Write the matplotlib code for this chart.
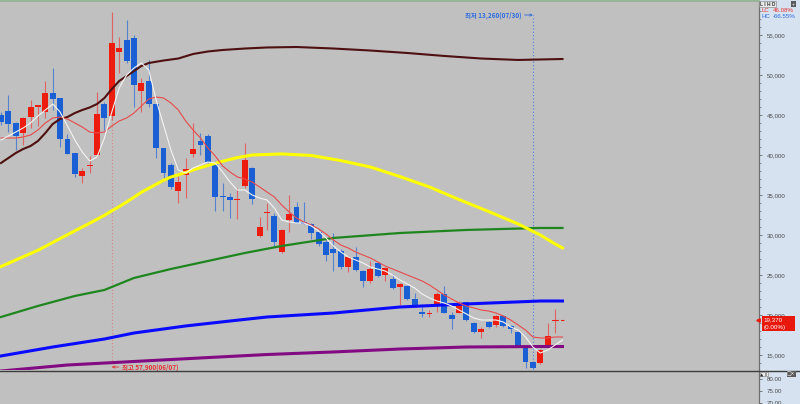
#!/usr/bin/env python3
"""
Daily candle chart with moving averages (Korean HTS style).
Prices in KRW, read off the reference screenshot.
"""

import numpy as np
import matplotlib
matplotlib.use('Agg')
import matplotlib.pyplot as plt
from matplotlib.lines import Line2D
from matplotlib.patches import Rectangle
from matplotlib.ticker import MultipleLocator, FuncFormatter

plt.rcParams['font.family'] = ['Liberation Sans', 'DejaVu Sans']

# ---------------------------------------------------------------------------
# Data
# ---------------------------------------------------------------------------

opens = [45000, 45500, 44000, 42750, 44750, 46000, 45400, 47750, 47150, 42000,
         40250, 37400, 38650, 40000, 46400, 44900, 52900, 54400, 54650, 48000,
         49250, 46400, 40900, 38750, 35500, 37500, 40150, 41750, 42400, 39150,
         34900, 34750, 34400, 36150, 38400, 29900, 32750, 32400, 27900, 31900,
         33500, 31650, 31400, 30400, 29150, 28250, 28000, 26000, 27250, 25500,
         24250, 26500, 25000, 24500, 23500, 23650, 22000, 20400, 20150, 21250,
         22650, 20000, 20250, 21650, 19000, 17900, 19150, 18750, 19900, 18650,
         17900, 15900, 14150, 14000, 16000, 19250]
highs = [45400, 47500, 44150, 44750, 46900, 46250, 49250, 50900, 47150, 42650,
         40250, 38400, 39900, 47900, 46650, 57900, 54750, 56900, 55000, 49650,
         51900, 46400, 40900, 39000, 37400, 39650, 44000, 42750, 42650, 39250,
         36500, 35250, 35900, 41500, 38500, 32250, 34000, 32750, 30750, 35000,
         34150, 34150, 31500, 30650, 29400, 30250, 28250, 27400, 28500, 25650,
         26750, 26500, 26000, 25150, 24000, 23750, 22750, 21000, 20650, 22900,
         23650, 20400, 21750, 21650, 19150, 18500, 19250, 20000, 20000, 18750,
         18000, 16000, 14200, 15750, 19000, 20750]
lows = [43750, 42900, 40650, 41250, 43400, 43650, 44650, 45650, 41000, 40150,
        37250, 36500, 37750, 39750, 43150, 44400, 50250, 51500, 46000, 45400,
        46000, 39650, 37150, 35750, 34000, 34650, 39750, 40000, 39000, 33000,
        33000, 32150, 32000, 35900, 33900, 29750, 30650, 28500, 27750, 30400,
        31500, 31400, 29500, 28650, 26750, 25500, 25750, 25400, 25500, 23500,
        24000, 24750, 24250, 23250, 21250, 21900, 21000, 19750, 19750, 20400,
        20250, 18250, 20250, 19250, 17750, 17150, 18400, 18500, 18500, 17750,
        16000, 13400, 13260, 13900, 15900, 17750]
closes = [44150, 43900, 42400, 44650, 46000, 46250, 47750, 47000, 42000, 40150,
          37650, 38000, 38750, 45150, 44650, 54000, 53400, 51750, 48750, 49000,
          46400, 40900, 37750, 36000, 36650, 38250, 40750, 41250, 39150, 34750,
          34750, 34400, 34500, 39400, 34500, 31000, 32900, 29150, 30650, 32650,
          31500, 31400, 30250, 28900, 27500, 27750, 26000, 27250, 25650, 24250,
          25750, 24900, 25900, 23400, 23900, 22000, 21250, 20150, 20250, 22650,
          20250, 19500, 21250, 19400, 17900, 18250, 18500, 19900, 18650, 18250,
          16150, 14150, 13420, 15650, 17400, 19370]

high_label = '최고 57,900(06/07)'
low_label = '최저 13,260(07/30)'
last_change_pct = 0.00

# short moving averages, one value per candle (+ one projected step)
ma_white = [41875, 42375, 42875, 43375, 44000, 44875, 45625, 46375, 45375, 43625,
            41875, 40375, 39250, 39750, 42125, 45375, 48375, 50000, 50875, 51500,
            50625, 46875, 43750, 40625, 38125, 37750, 38375, 38750, 39125, 39000,
            37875, 36625, 35625, 35625, 35000, 34625, 34375, 33375, 31875, 31625,
            31500, 31500, 31125, 30500, 29625, 28625, 27875, 27250, 26875, 26500,
            26000, 25750, 25500, 25000, 24375, 23875, 23375, 22625, 22125, 21750,
            21500, 21125, 20625, 20125, 19625, 19375, 19375, 19375, 19125, 18500,
            18125, 17250, 16000, 15250, 15625, 16250, 16875]
ma_red = [42125, 42125, 42125, 42250, 42500, 43125, 44000, 44625, 44750, 44500,
          44000, 43500, 42875, 42750, 42875, 43625, 44250, 44625, 45250, 46125,
          47000, 47250, 47125, 46500, 45625, 44250, 43125, 42125, 40875, 39875,
          38625, 37875, 37250, 37000, 36625, 36000, 35375, 34750, 33750, 32875,
          32125, 31625, 31250, 30750, 30125, 29375, 28750, 28375, 27875, 27500,
          27125, 26625, 26125, 25750, 25375, 25000, 24625, 24250, 23750, 23125,
          22500, 22000, 21500, 21125, 20875, 20625, 20500, 20250, 19875, 19375,
          18750, 18125, 17250, 17125, 17125, 17250, 17250]

# long moving averages, sampled at candle positions
ma_brown_idx = [0, 1, 2, 3, 4, 5, 6, 7, 8, 9, 10, 11, 12, 13, 14, 15, 16, 17, 18,
                19, 20, 22, 24, 26, 28, 30, 33, 36, 40, 45, 50, 55, 60, 65, 70, 73, 76]
ma_brown = [39000, 39625, 40250, 40750, 41125, 41750, 42750, 43875, 44500, 44750,
            45250, 45625, 45940, 46375, 47125, 48250, 49250, 49875, 50500, 51125,
            51500, 51810, 52060, 52625, 52940, 53125, 53310, 53440, 53500, 53310,
            53060, 52750, 52380, 52060, 51880, 51940, 52000]
ma_yellow_idx = [0, 5, 9, 12, 14, 15, 16, 17, 18, 19, 20, 22, 23, 24, 26, 28, 30,
                 32, 34, 38, 42, 46, 50, 54, 58, 62, 66, 70, 73, 75, 76]
ma_yellow = [26060, 28090, 30040, 31475, 32460, 33025, 33550, 34125, 34725, 35340,
             35840, 36840, 37250, 37525, 38125, 38700, 39210, 39680, 40000, 40130,
             39940, 39300, 38500, 37300, 36000, 34430, 32940, 31380, 30000, 28880,
             28380]
ma_green_idx = [0, 5, 10, 14, 18, 23, 28, 33, 38, 45, 54, 63, 73, 76]
ma_green = [19750, 21130, 22380, 23130, 24630, 25750, 26750, 27750, 28630, 29630,
            30250, 30630, 30880, 30880]
ma_blue_idx = [0, 7, 14, 18, 25, 31, 36, 45, 54, 63, 73, 76]
ma_blue = [14880, 16000, 17000, 17750, 18630, 19250, 19750, 20250, 21000, 21380,
           21750, 21750]
ma_purple_idx = [0, 9, 18, 27, 36, 45, 54, 63, 73, 76]
ma_purple = [13000, 13750, 14190, 14630, 15060, 15380, 15750, 16000, 16060, 16060]

price_ticks = [15000, 20000, 25000, 30000, 35000, 40000, 45000, 50000, 55000]
sub_ticks = [70, 75, 80]

# ---------------------------------------------------------------------------
# Styling
# ---------------------------------------------------------------------------

W, H = 800, 404
BG = '#c0c0c0'
PANEL = '#d6e2f0'
UP = '#ec1c0e'
DOWN = '#1a5fd4'
UP_WICK = '#e06464'
DOWN_WICK = '#5583d2'
KR = ['Noto Sans CJK KR', 'DejaVu Sans']

o = np.array(opens, float)
h = np.array(highs, float)
l = np.array(lows, float)
c = np.array(closes, float)
idx = np.arange(len(c))
up = c >= o

fig = plt.figure(figsize=(W / 100, H / 100), dpi=100)
fig.patch.set_facecolor(BG)

# right-hand scale strip
fig.add_artist(Rectangle((759 / W, 0), 41 / W, 1, transform=fig.transFigure,
                         facecolor=PANEL, edgecolor='none', zorder=-1))

# ---------------------------------------------------------------------------
# Price panel
# ---------------------------------------------------------------------------

ax = fig.add_axes([0, 34 / H, 759 / W, 369 / H])
ax.set_facecolor(BG)
ax.set_xlim(-0.135, 102.6)
ax.set_ylim(13125, 59250)

ax.vlines(idx, l, h, colors=np.where(up, UP_WICK, DOWN_WICK), lw=0.8, zorder=2)
body_lo = np.minimum(o, c)
body_h = np.maximum(np.abs(c - o), 120)
ax.bar(idx, body_h, bottom=body_lo, width=0.8,
       color=np.where(up, UP, DOWN), edgecolor='none', zorder=3)

ax.plot(ma_purple_idx, ma_purple, color='#820a82', lw=2.2, zorder=4)
ax.plot(ma_blue_idx, ma_blue, color='#0a0aff', lw=2.2, zorder=4)
ax.plot(ma_green_idx, ma_green, color='#1f861f', lw=1.6, zorder=4)
ax.plot(ma_yellow_idx, ma_yellow, color='#ffff00', lw=2.2, zorder=4)
ax.plot(ma_brown_idx, ma_brown, color='#4e1010', lw=1.5, zorder=4)
ma_x = np.arange(len(ma_white))
ax.plot(ma_x, ma_red, color='#e84a4a', lw=0.8, zorder=5)
ax.plot(ma_x, ma_white, color='#f4f4f4', lw=0.8, zorder=5)

# last price marker line
ax.hlines(c[-1], idx[-1], idx[-1] + 1.3, colors=UP, lw=0.8, linestyles=(0, (3, 2)), zorder=5)

# high / low markers
hi_i = int(np.argmax(h))
lo_i = int(np.argmin(l))
y_top = 57500
y_bot = 13500
ax.vlines(hi_i, y_bot, h[hi_i], colors='#e08080', lw=0.8, linestyles=(0, (1, 2)), zorder=1)
ax.vlines(lo_i, l[lo_i], y_top, colors='#4d80e0', lw=0.8, linestyles=(0, (1, 2)), zorder=1)

ax.annotate(low_label, xy=(lo_i, y_top), xytext=(-8, 0), textcoords='offset points',
            ha='right', va='center', fontsize=4.6, fontweight='bold', color='#2d6ae0',
            family=KR,
            arrowprops=dict(arrowstyle='->', color='#2d6ae0', lw=0.6,
                            shrinkA=0, shrinkB=0, mutation_scale=4))
ax.annotate(high_label, xy=(hi_i, y_bot), xytext=(7, 0), textcoords='offset points',
            ha='left', va='center', fontsize=4.6, fontweight='bold', color='#e83030',
            family=KR,
            arrowprops=dict(arrowstyle='->', color='#e83030', lw=0.6,
                            shrinkA=0, shrinkB=0, mutation_scale=4))

ax.set_xticks([])
ax.yaxis.tick_right()
ax.set_yticks(price_ticks)
ax.yaxis.set_minor_locator(MultipleLocator(1000))
ax.yaxis.set_major_formatter(FuncFormatter(lambda v, _: f'{int(v):,}'))
ax.tick_params(axis='y', which='major', length=2.5, width=0.6, color='#6a6a6a',
               pad=3, labelsize=4.4, labelcolor='#4a4a4a')
ax.tick_params(axis='y', which='minor', length=1.5, width=0.5, color='#6a6a6a')
for side in ('left', 'bottom'):
    ax.spines[side].set_visible(False)
ax.spines['top'].set_color('#8fb58f')
ax.spines['top'].set_linewidth(1.2)
ax.spines['right'].set_color('#6e6e6e')
ax.spines['right'].set_linewidth(0.9)

# ---------------------------------------------------------------------------
# Lower (indicator) panel
# ---------------------------------------------------------------------------

ax2 = fig.add_axes([0, 0, 759 / W, 33 / H])
ax2.set_facecolor(BG)
ax2.set_xlim(ax.get_xlim())
ax2.set_ylim(69.6, 83.4)
ax2.set_xticks([])
ax2.yaxis.tick_right()
ax2.set_yticks(sub_ticks)
ax2.yaxis.set_major_formatter(FuncFormatter(lambda v, _: f'{v:.2f}'))
ax2.tick_params(axis='y', length=2.5, width=0.6, color='#6a6a6a', pad=3,
                labelsize=4.4, labelcolor='#4a4a4a')
for side in ('left', 'bottom', 'top'):
    ax2.spines[side].set_visible(False)
ax2.spines['right'].set_color('#6e6e6e')
ax2.spines['right'].set_linewidth(0.9)

fig.add_artist(Line2D([0, 1], [1 - 370.5 / H] * 2, transform=fig.transFigure,
                      color='#3c3c3c', lw=1.0))

# ---------------------------------------------------------------------------
# Right strip: current price box and range stats
# ---------------------------------------------------------------------------

side = fig.add_axes([759 / W, 34 / H, 41 / W, 369 / H])
side.set_xlim(0, 1)
side.set_ylim(ax.get_ylim())
side.axis('off')
side.add_patch(Rectangle((0.07, c[-1] - 1375), 0.81, 1875, facecolor='#e8180c',
                         edgecolor='none', clip_on=False))
side.text(0.12, c[-1], f'{int(c[-1]):,}', color='white', fontsize=4.5, va='center')
side.text(0.12, c[-1] - 880, f'({last_change_pct:.2f}%)', color='white',
          fontsize=4.5, va='center')
side.plot([-0.02], [c[-1]], marker='<', color='#e8180c', ms=2.5, clip_on=False)

lc = (c[-1] - l.min()) / l.min() * 100
hc = (c[-1] - h.max()) / h.max() * 100
fig.text(761 / W, 1 - 11 / H, 'LC', color='#e83030', fontsize=4.4, va='center')
fig.text(794 / W, 1 - 11 / H, f'{lc:.2f}%', color='#e83030', fontsize=4.4,
         va='center', ha='right')
fig.text(761 / W, 1 - 17 / H, 'HC', color='#2d6ae0', fontsize=4.4, va='center')
fig.text(795 / W, 1 - 17 / H, f'{hc:.2f}%', color='#2d6ae0', fontsize=4.4,
         va='center', ha='right')

# small toolbar buttons
fig.text(760 / W, 1 - 4 / H, 'L I H D', fontsize=3.4, fontweight='bold', color='#303030',
         va='center', bbox=dict(facecolor='#ececec', edgecolor='#777777', pad=0.4, lw=0.4))
fig.text(792 / W, 1 - 4 / H, '+', fontsize=3.4, color='white', va='center',
         bbox=dict(facecolor='#5a5a5a', edgecolor='none', pad=0.5))
fig.text(760 / W, 1 - 374 / H, '▲ II', fontsize=3.2, color='#303030', va='center',
         family=['DejaVu Sans'],
         bbox=dict(facecolor='#ececec', edgecolor='#777777', pad=0.3, lw=0.4))
fig.text(787 / W, 1 - 374 / H, '□×', fontsize=3.4, color='white', va='center',
         family=['DejaVu Sans'],
         bbox=dict(facecolor='#5a5a5a', edgecolor='none', pad=0.3))

fig.savefig('out.png', dpi=100, facecolor=fig.get_facecolor())
